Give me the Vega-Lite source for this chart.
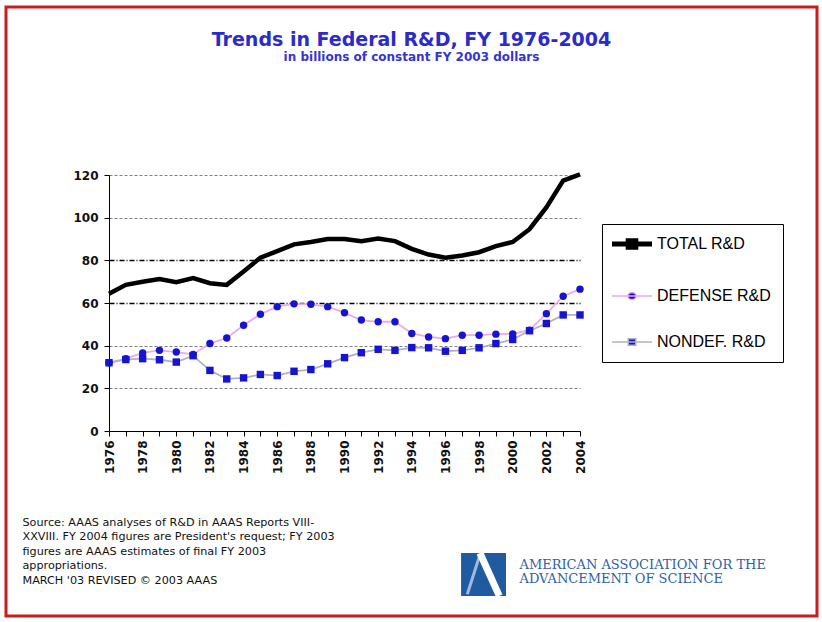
{
  "$schema": "https://vega.github.io/schema/vega-lite/v6.json",
  "width": 811,
  "height": 609,
  "autosize": {"type": "none"},
  "padding": {"left": 6, "top": 7, "right": 5, "bottom": 6},
  "background": "white",
  "config": {"view": {"stroke": "#c81e1e", "strokeWidth": 3}},
  "title": {
    "text": "Trends in Federal R&D, FY 1976-2004",
    "subtitle": "in billions of constant FY 2003 dollars",
    "font": "DejaVu Sans",
    "fontSize": 19,
    "fontWeight": "bold",
    "color": "#2b2bc8",
    "subtitleFont": "DejaVu Sans",
    "subtitleFontSize": 12,
    "subtitleFontWeight": "bold",
    "subtitleColor": "#3535d0",
    "subtitlePadding": 2,
    "anchor": "middle",
    "offset": -56
  },
  "data": {
    "values": [
      {"year": 1976, "series": "TOTAL R&D", "value": 64.3},
      {"year": 1977, "series": "TOTAL R&D", "value": 68.5},
      {"year": 1978, "series": "TOTAL R&D", "value": 70.0},
      {"year": 1979, "series": "TOTAL R&D", "value": 71.2},
      {"year": 1980, "series": "TOTAL R&D", "value": 69.8},
      {"year": 1981, "series": "TOTAL R&D", "value": 71.7},
      {"year": 1982, "series": "TOTAL R&D", "value": 69.3},
      {"year": 1983, "series": "TOTAL R&D", "value": 68.5},
      {"year": 1984, "series": "TOTAL R&D", "value": 74.8},
      {"year": 1985, "series": "TOTAL R&D", "value": 81.2},
      {"year": 1986, "series": "TOTAL R&D", "value": 84.3},
      {"year": 1987, "series": "TOTAL R&D", "value": 87.5},
      {"year": 1988, "series": "TOTAL R&D", "value": 88.6},
      {"year": 1989, "series": "TOTAL R&D", "value": 90.0},
      {"year": 1990, "series": "TOTAL R&D", "value": 90.0},
      {"year": 1991, "series": "TOTAL R&D", "value": 89.0},
      {"year": 1992, "series": "TOTAL R&D", "value": 90.2},
      {"year": 1993, "series": "TOTAL R&D", "value": 89.0},
      {"year": 1994, "series": "TOTAL R&D", "value": 85.4},
      {"year": 1995, "series": "TOTAL R&D", "value": 82.7},
      {"year": 1996, "series": "TOTAL R&D", "value": 81.2},
      {"year": 1997, "series": "TOTAL R&D", "value": 82.3},
      {"year": 1998, "series": "TOTAL R&D", "value": 83.8},
      {"year": 1999, "series": "TOTAL R&D", "value": 86.7},
      {"year": 2000, "series": "TOTAL R&D", "value": 88.6},
      {"year": 2001, "series": "TOTAL R&D", "value": 94.6},
      {"year": 2002, "series": "TOTAL R&D", "value": 104.8},
      {"year": 2003, "series": "TOTAL R&D", "value": 117.4},
      {"year": 2004, "series": "TOTAL R&D", "value": 120.3},
      {"year": 1976, "series": "DEFENSE R&D", "value": 32.0},
      {"year": 1977, "series": "DEFENSE R&D", "value": 33.9},
      {"year": 1978, "series": "DEFENSE R&D", "value": 36.6},
      {"year": 1979, "series": "DEFENSE R&D", "value": 37.8},
      {"year": 1980, "series": "DEFENSE R&D", "value": 37.0},
      {"year": 1981, "series": "DEFENSE R&D", "value": 35.9},
      {"year": 1982, "series": "DEFENSE R&D", "value": 41.0},
      {"year": 1983, "series": "DEFENSE R&D", "value": 43.6},
      {"year": 1984, "series": "DEFENSE R&D", "value": 49.6},
      {"year": 1985, "series": "DEFENSE R&D", "value": 54.7},
      {"year": 1986, "series": "DEFENSE R&D", "value": 58.3},
      {"year": 1987, "series": "DEFENSE R&D", "value": 59.6},
      {"year": 1988, "series": "DEFENSE R&D", "value": 59.4},
      {"year": 1989, "series": "DEFENSE R&D", "value": 58.3},
      {"year": 1990, "series": "DEFENSE R&D", "value": 55.4},
      {"year": 1991, "series": "DEFENSE R&D", "value": 52.0},
      {"year": 1992, "series": "DEFENSE R&D", "value": 51.2},
      {"year": 1993, "series": "DEFENSE R&D", "value": 51.2},
      {"year": 1994, "series": "DEFENSE R&D", "value": 45.7},
      {"year": 1995, "series": "DEFENSE R&D", "value": 44.1},
      {"year": 1996, "series": "DEFENSE R&D", "value": 43.3},
      {"year": 1997, "series": "DEFENSE R&D", "value": 44.9},
      {"year": 1998, "series": "DEFENSE R&D", "value": 44.9},
      {"year": 1999, "series": "DEFENSE R&D", "value": 45.4},
      {"year": 2000, "series": "DEFENSE R&D", "value": 45.5},
      {"year": 2001, "series": "DEFENSE R&D", "value": 47.3},
      {"year": 2002, "series": "DEFENSE R&D", "value": 55.0},
      {"year": 2003, "series": "DEFENSE R&D", "value": 63.2},
      {"year": 2004, "series": "DEFENSE R&D", "value": 66.5},
      {"year": 1976, "series": "NONDEF. R&D", "value": 32.0},
      {"year": 1977, "series": "NONDEF. R&D", "value": 33.5},
      {"year": 1978, "series": "NONDEF. R&D", "value": 33.9},
      {"year": 1979, "series": "NONDEF. R&D", "value": 33.4},
      {"year": 1980, "series": "NONDEF. R&D", "value": 32.3},
      {"year": 1981, "series": "NONDEF. R&D", "value": 35.3},
      {"year": 1982, "series": "NONDEF. R&D", "value": 28.4},
      {"year": 1983, "series": "NONDEF. R&D", "value": 24.4},
      {"year": 1984, "series": "NONDEF. R&D", "value": 24.9},
      {"year": 1985, "series": "NONDEF. R&D", "value": 26.5},
      {"year": 1986, "series": "NONDEF. R&D", "value": 26.0},
      {"year": 1987, "series": "NONDEF. R&D", "value": 28.0},
      {"year": 1988, "series": "NONDEF. R&D", "value": 28.8},
      {"year": 1989, "series": "NONDEF. R&D", "value": 31.5},
      {"year": 1990, "series": "NONDEF. R&D", "value": 34.4},
      {"year": 1991, "series": "NONDEF. R&D", "value": 36.7},
      {"year": 1992, "series": "NONDEF. R&D", "value": 38.3},
      {"year": 1993, "series": "NONDEF. R&D", "value": 37.8},
      {"year": 1994, "series": "NONDEF. R&D", "value": 39.1},
      {"year": 1995, "series": "NONDEF. R&D", "value": 39.0},
      {"year": 1996, "series": "NONDEF. R&D", "value": 37.4},
      {"year": 1997, "series": "NONDEF. R&D", "value": 37.8},
      {"year": 1998, "series": "NONDEF. R&D", "value": 39.0},
      {"year": 1999, "series": "NONDEF. R&D", "value": 41.0},
      {"year": 2000, "series": "NONDEF. R&D", "value": 42.9},
      {"year": 2001, "series": "NONDEF. R&D", "value": 47.0},
      {"year": 2002, "series": "NONDEF. R&D", "value": 50.4},
      {"year": 2003, "series": "NONDEF. R&D", "value": 54.4},
      {"year": 2004, "series": "NONDEF. R&D", "value": 54.4}
    ]
  },
  "encoding": {
    "x": {
      "field": "year",
      "type": "quantitative",
      "scale": {"domain": [1976, 2004], "range": [103, 574], "nice": false, "zero": false},
      "axis": {
        "values": [1976,1977,1978,1979,1980,1981,1982,1983,1984,1985,1986,1987,1988,1989,1990,1991,1992,1993,1994,1995,1996,1997,1998,1999,2000,2001,2002,2003,2004],
        "format": "d",
        "labelExpr": "datum.value % 2 === 0 ? datum.label : ''",
        "labelAngle": 270,
        "labelAlign": "right",
        "labelBaseline": "middle",
        "labelFont": "DejaVu Sans",
        "labelFontSize": 12,
        "labelFontWeight": "bold",
        "labelColor": "#111",
        "labelPadding": 4,
        "labelOverlap": false,
        "tickSize": 5,
        "tickColor": "#000",
        "domainColor": "#000",
        "grid": false,
        "offset": -185,
        "title": [
          "Source: AAAS analyses of R&D in AAAS Reports VIII-",
          "XXVIII. FY 2004 figures are President's request; FY 2003",
          "figures are AAAS estimates of final FY 2003",
          "appropriations.",
          "MARCH '03 REVISED © 2003 AAAS"
        ],
        "titleFont": "DejaVu Sans",
        "titleFontSize": 11.2,
        "titleFontWeight": "normal",
        "titleColor": "#111",
        "titleAngle": 0,
        "titleAlign": "left",
        "titleBaseline": "alphabetic",
        "titleLineHeight": 14.5,
        "titleX": 16,
        "titleY": 94
      }
    },
    "y": {
      "field": "value",
      "type": "quantitative",
      "scale": {"domain": [0, 120], "range": [424, 168], "nice": false},
      "axis": {
        "values": [0, 20, 40, 60, 80, 100, 120],
        "offset": -103,
        "labelFont": "DejaVu Sans",
        "labelFontSize": 12,
        "labelFontWeight": "bold",
        "labelColor": "#111",
        "labelPadding": 6,
        "tickSize": 5,
        "tickColor": "#000",
        "domainColor": "#000",
        "grid": true,
        "gridColor": {"condition": {"test": "datum.value === 60 || datum.value === 80", "value": "#000"}, "value": "#808080"},
        "gridDash": {"condition": {"test": "datum.value === 60 || datum.value === 80", "value": [5, 2, 1, 2]}, "value": [3, 2]},
        "gridWidth": {"condition": {"test": "datum.value === 60 || datum.value === 80", "value": 1.3}, "value": 1},
        "title": ["AMERICAN ASSOCIATION FOR THE", "ADVANCEMENT OF SCIENCE"],
        "titleFont": "DejaVu Serif",
        "titleFontSize": 13,
        "titleFontWeight": "normal",
        "titleColor": "#2f62a4",
        "titleAngle": 0,
        "titleAlign": "left",
        "titleBaseline": "alphabetic",
        "titleLineHeight": 14,
        "titleX": 410,
        "titleY": 561
      }
    }
  },
  "layer": [
    {
      "transform": [{"filter": "datum.series !== 'TOTAL R&D'"}],
      "mark": {"type": "line", "strokeWidth": 1.8},
      "encoding": {
        "color": {
          "field": "series",
          "type": "nominal",
          "scale": {"domain": ["TOTAL R&D", "DEFENSE R&D", "NONDEF. R&D"], "range": ["#000000", "#f0a8e8", "#b0b0c4"]},
          "legend": {
            "orient": "none",
            "legendX": 596,
            "legendY": 217,
            "title": null,
            "strokeColor": "#000",
            "fillColor": "#fff",
            "padding": 12,
            "symbolSize": 400,
            "symbolOffset": 10,
            "labelOffset": 17,
            "rowPadding": 30,
            "labelFont": "Liberation Sans",
            "labelFontSize": 16,
            "labelColor": "#000",
            "encode": {
              "symbols": {
                "update": {
                  "shape": {"signal": "datum.value === 'DEFENSE R&D' ? 'M-2,0H2M-0.42,0A0.42,0.36 0 1,0 0.42,0A0.42,0.36 0 1,0 -0.42,0Z' : 'M-2,0H2M-0.38,-0.32H0.38V0.32H-0.38Z'"},
                  "fill": {"signal": "datum.value === 'TOTAL R&D' ? '#000000' : '#1414d2'"},
                  "strokeWidth": {"signal": "datum.value === 'TOTAL R&D' ? 5 : 1.5"},
                  "opacity": {"value": 1}
                }
              }
            }
          }
        }
      }
    },
    {
      "transform": [{"filter": "datum.series === 'TOTAL R&D'"}],
      "mark": {"type": "line", "strokeWidth": 4.5},
      "encoding": {"color": {"field": "series", "type": "nominal"}}
    },
    {
      "transform": [{"filter": "datum.series !== 'TOTAL R&D'"}],
      "mark": {"type": "point", "filled": true, "color": "#1414d2", "size": 55, "opacity": 1},
      "encoding": {
        "shape": {
          "field": "series",
          "type": "nominal",
          "scale": {"domain": ["DEFENSE R&D", "NONDEF. R&D"], "range": ["circle", "square"]},
          "legend": null
        }
      }
    },
    {
      "transform": [{"filter": "datum.series === 'TOTAL R&D' && datum.year === 2004"}],
      "mark": {"type": "rect", "color": "#1f5b9e", "opacity": 1},
      "encoding": {
        "x": {"datum": 1996.93},
        "x2": {"datum": 1999.6},
        "y": {"datum": -57.2},
        "y2": {"datum": -77.3}
      }
    },
    {
      "transform": [{"filter": "datum.series === 'TOTAL R&D' && datum.year === 2004"}],
      "mark": {"type": "rule", "color": "#9dbbe0", "strokeWidth": 3, "opacity": 1},
      "encoding": {
        "x": {"datum": 1998.05},
        "x2": {"datum": 1997.3},
        "y": {"datum": -58.0},
        "y2": {"datum": -76.5}
      }
    },
    {
      "transform": [{"filter": "datum.series === 'TOTAL R&D' && datum.year === 2004"}],
      "mark": {"type": "rule", "color": "#ffffff", "strokeWidth": 7, "opacity": 1},
      "encoding": {
        "x": {"datum": 1998.05},
        "x2": {"datum": 1999.2},
        "y": {"datum": -57.2},
        "y2": {"datum": -77.3}
      }
    }
  ]
}
